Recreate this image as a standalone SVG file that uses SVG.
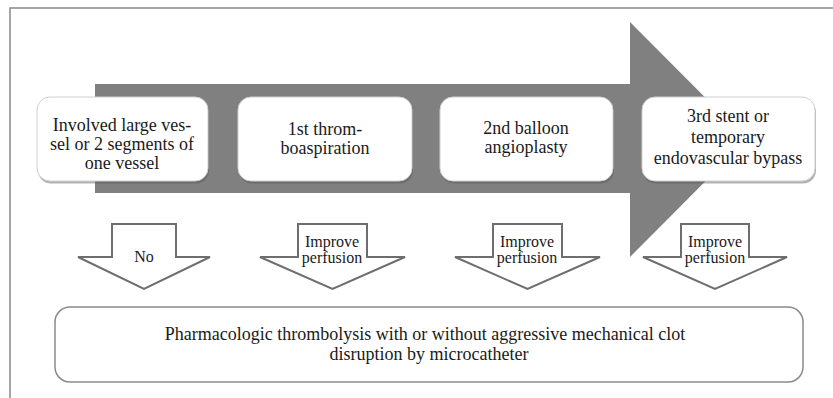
<svg xmlns="http://www.w3.org/2000/svg" width="833" height="398" viewBox="0 0 833 398">
<style>
.b{font-family:'Liberation Serif',serif;font-size:18px;fill:#1a1a1a;text-anchor:middle}
.s{font-family:'Liberation Serif',serif;font-size:16px;fill:#1a1a1a;text-anchor:middle}
.box{fill:#fff;stroke:#d0d0d0;stroke-width:1}
.shd{fill:#555;opacity:0.45}
.down{fill:#fff;stroke:#6e6e6e;stroke-width:2;stroke-linejoin:miter}
.frame{stroke:#888;stroke-width:1.5;fill:none}
</style>
<rect width="833" height="398" fill="#fff"/>
<path class="frame" d="M10,398 V8 H833"/>
<g id="big-arrow">
<path d="M95,84 H630 V22 L747,139.5 L630,257 V193 H95 Z" fill="#808080"/>
</g>
<g id="node1">
<rect class="shd" x="38" y="99.5" width="171" height="84" rx="13"/>
<rect class="box" x="37" y="97" width="171" height="84" rx="13"/>
<text class="b" x="122" y="131" style="font-family:'Liberation Serif',serif">Involved large ves-</text>
<text class="b" x="122" y="150" style="font-family:'Liberation Serif',serif">sel or 2 segments of</text>
<text class="b" x="122" y="169" style="font-family:'Liberation Serif',serif">one vessel</text>
</g>
<g id="node2">
<rect class="shd" x="239" y="99.5" width="174" height="84" rx="13"/>
<rect class="box" x="238" y="97" width="174" height="84" rx="13"/>
<text class="b" x="325" y="135" style="font-family:'Liberation Serif',serif">1st throm-</text>
<text class="b" x="325" y="154" style="font-family:'Liberation Serif',serif">boaspiration</text>
</g>
<g id="node3">
<rect class="shd" x="441" y="99.5" width="173" height="84" rx="13"/>
<rect class="box" x="440" y="97" width="173" height="84" rx="13"/>
<text class="b" x="526" y="134" style="font-family:'Liberation Serif',serif">2nd balloon</text>
<text class="b" x="526" y="153" style="font-family:'Liberation Serif',serif">angioplasty</text>
</g>
<g id="node4">
<rect class="shd" x="643" y="99.5" width="173" height="84" rx="13"/>
<rect class="box" x="642" y="97" width="173" height="84" rx="13"/>
<text class="b" x="728" y="122" style="font-family:'Liberation Serif',serif">3rd stent or</text>
<text class="b" x="728" y="143" style="font-family:'Liberation Serif',serif">temporary</text>
<text class="b" x="728" y="164" style="font-family:'Liberation Serif',serif">endovascular bypass</text>
</g>
<g id="connectors">
<g id="down1">
<path class="down" d="M112,224 H176 V257 H210 L144,289 L78,257 H112 Z"/>
<text class="s" x="144" y="262" style="font-family:'Liberation Serif',serif">No</text>
</g>
<g id="down2">
<path class="down" d="M298,224 H367 V257 H405 L332.5,289 L260,257 H298 Z"/>
<text class="s" x="332" y="247" style="font-family:'Liberation Serif',serif">Improve</text>
<text class="s" x="332" y="263" style="font-family:'Liberation Serif',serif">perfusion</text>
</g>
<g id="down3">
<path class="down" d="M493,224 H562 V257 H600 L527.5,289 L455,257 H493 Z"/>
<text class="s" x="527" y="247" style="font-family:'Liberation Serif',serif">Improve</text>
<text class="s" x="527" y="263" style="font-family:'Liberation Serif',serif">perfusion</text>
</g>
<g id="down4">
<path class="down" d="M681,224 H749 V257 H787 L715,289 L643,257 H681 Z"/>
<text class="s" x="715" y="247" style="font-family:'Liberation Serif',serif">Improve</text>
<text class="s" x="715" y="263" style="font-family:'Liberation Serif',serif">perfusion</text>
</g>
</g>
<g id="node5">
<rect x="55" y="307" width="748" height="75" rx="15" fill="#fff" stroke="#8a8a8a" stroke-width="1.5"/>
<text class="b" x="425" y="340" style="font-family:'Liberation Serif',serif">Pharmacologic thrombolysis with or without aggressive mechanical clot</text>
<text class="b" x="429" y="360" style="font-family:'Liberation Serif',serif">disruption by microcatheter</text>
</g>
</svg>
